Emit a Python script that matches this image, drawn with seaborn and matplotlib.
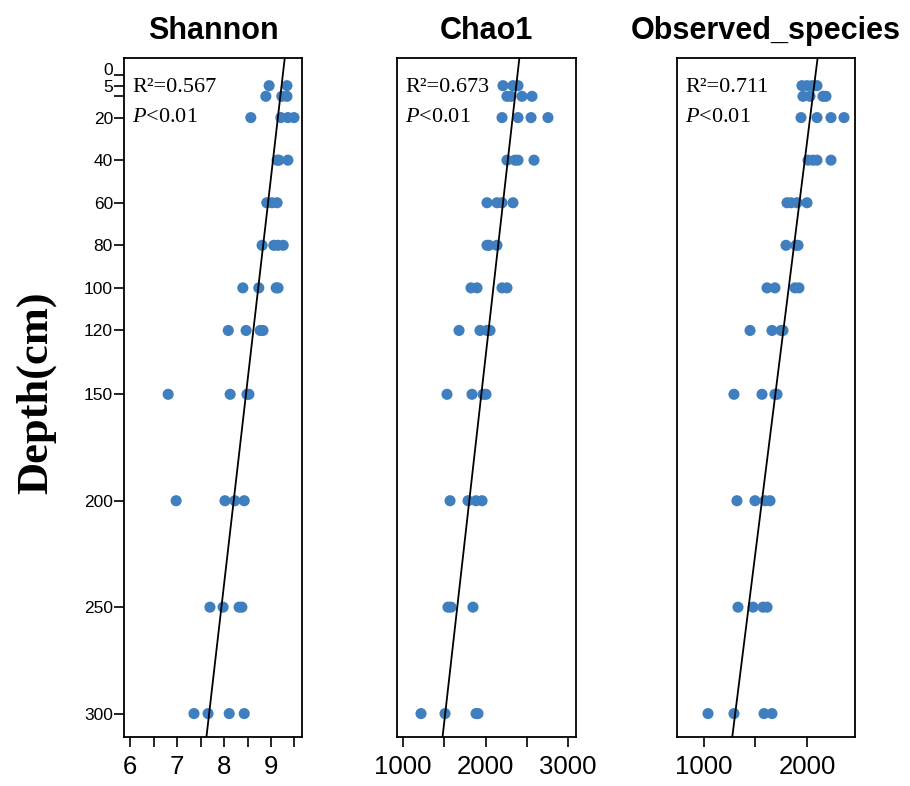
import numpy as np
import pandas as pd
import matplotlib
matplotlib.use('Agg')
import matplotlib.pyplot as plt
import matplotlib.transforms as mtransforms
import seaborn as sns

sns.set_style('ticks')
plt.rcParams['font.family'] = ['Liberation Sans', 'DejaVu Sans']
plt.rcParams['mathtext.fontset'] = 'custom'
plt.rcParams['mathtext.rm'] = 'Liberation Serif'
plt.rcParams['mathtext.it'] = 'Liberation Serif:italic'
for key in ['text.color', 'axes.labelcolor', 'xtick.color', 'ytick.color', 'axes.edgecolor']:
    plt.rcParams[key] = 'black'

# depth of each sample row (cm)
depths = [5, 5, 10, 10, 10, 20, 20, 20, 20, 40, 40, 40, 60, 60, 60,
          80, 80, 80, 80, 100, 100, 100, 100, 120, 120, 120, 120,
          150, 150, 150, 150, 200, 200, 200, 200, 250, 250, 250, 250,
          300, 300, 300, 300]
shannon = [8.96, 9.34, 8.89, 9.23, 9.34, 8.57, 9.21, 9.36, 9.49,
           9.13, 9.17, 9.36, 8.91, 9.02, 9.13,
           8.81, 9.06, 9.15, 9.26, 8.40, 8.74, 9.11, 9.15,
           8.09, 8.47, 8.77, 8.83, 6.81, 8.13, 8.49, 8.53,
           6.98, 8.02, 8.23, 8.43, 7.70, 7.98, 8.32, 8.38,
           7.36, 7.66, 8.11, 8.43]

depths_c = [5, 5, 5, 10, 10, 10, 10, 20, 20, 20, 20, 40, 40, 40, 40,
            60, 60, 60, 60, 80, 80, 80, 100, 100, 100, 100,
            120, 120, 120, 120, 150, 150, 150, 150, 200, 200, 200, 200,
            250, 250, 250, 300, 300, 300, 300]
chao1 = [2212, 2333, 2394, 2260, 2309, 2442, 2564, 2200, 2394, 2552, 2757,
         2260, 2357, 2394, 2588, 2018, 2139, 2200, 2333, 2018, 2042, 2139,
         1824, 1897, 2200, 2260, 1679, 1933, 2018, 2055,
         1533, 1836, 1970, 2006, 1570, 1788, 1885, 1958,
         1545, 1582, 1848, 1218, 1509, 1885, 1909]

depths_o = [5, 5, 5, 5, 10, 10, 10, 10, 20, 20, 20, 20, 40, 40, 40, 40,
            60, 60, 60, 60, 80, 80, 80, 100, 100, 100, 100,
            120, 120, 120, 120, 150, 150, 150, 150, 200, 200, 200, 200,
            250, 250, 250, 250, 300, 300, 300, 300]
observed = [1951, 2000, 2049, 2097, 1961, 2029, 2155, 2184,
            1942, 2097, 2233, 2359, 2010, 2058, 2097, 2233,
            1806, 1845, 1903, 2000, 1796, 1893, 1913,
            1612, 1689, 1883, 1922, 1447, 1660, 1748, 1767,
            1291, 1563, 1689, 1709, 1320, 1495, 1592, 1641,
            1330, 1476, 1573, 1612, 1039, 1291, 1583, 1660]

titles = ['Shannon', 'Chao1', 'Observed_species']
r2_labels = ['0.567', '0.673', '0.711']
ytick_vals = [0, 5, 10, 20, 40, 60, 80, 100, 120, 150, 200, 250, 300]
ytick_labels = ['0', '5', '', '20', '40', '60', '80', '100', '120', '150', '200', '250', '300']

panels = [
    (depths, shannon, (5.87, 9.66), np.arange(6, 9.51, 0.5), ['6', '', '7', '', '8', '', '9', '']),
    (depths_c, chao1, (927, 3097), np.arange(1000, 3001, 500), ['1000', '', '2000', '', '3000']),
    (depths_o, observed, (738, 2466), np.arange(1000, 2001, 500), ['1000', '', '2000']),
]
lefts = [124, 397, 677]
widths = [178, 179, 178]

dot_color = '#3f7fbf'

fig = plt.figure(figsize=(9.1, 7.86), dpi=100)

for i, (d, v, xlim, xt, xtl) in enumerate(panels):
    ax = fig.add_axes([lefts[i] / 910, 49 / 786, widths[i] / 910, 679 / 786])
    df = pd.DataFrame({'depth': d, 'value': v})
    sns.scatterplot(data=df, x='value', y='depth', ax=ax, color=dot_color,
                    s=64, edgecolor='none', linewidth=0, zorder=3)

    # linear fit of value against depth
    k, b = np.polyfit(df['depth'], df['value'], 1)
    dd = np.array([-8, 311])
    ax.plot(k * dd + b, dd, color='black', lw=1.3, zorder=4)

    ax.set_xlim(*xlim)
    ax.set_ylim(311, -8)
    ax.set_xticks(xt)
    ax.set_xticklabels(xtl)
    ax.tick_params(axis='x', length=7, width=1.2, pad=6, labelsize=18.5)
    if i == 0:
        ax.set_yticks(ytick_vals)
        ax.set_yticklabels(ytick_labels)
        ax.tick_params(axis='y', length=7, width=1.2, pad=1, labelsize=12.5)
        # nudge the "0" label up so it clears the "5"
        lab0 = ax.get_yticklabels()[0]
        lab0.set_transform(lab0.get_transform() +
                           mtransforms.ScaledTranslation(0, 4 / 72, fig.dpi_scale_trans))
    else:
        ax.set_yticks([])
    ax.set_xlabel('')
    ax.set_ylabel('')
    for sp in ax.spines.values():
        sp.set_visible(True)
        sp.set_linewidth(1.3)
        sp.set_color('black')

    ax.set_title(titles[i], fontsize=22, fontweight='bold', pad=14)
    ax.text(0.045, 0.956, 'R\u00b2=' + r2_labels[i], transform=ax.transAxes,
            family='Liberation Serif', fontsize=16, va='center', ha='left')
    ax.text(0.045, 0.913, '$P$<0.01', transform=ax.transAxes,
            family='Liberation Serif', fontsize=16, va='center', ha='left')

fig.text(0.0396, 0.5, 'Depth(cm)', rotation=90, ha='center', va='center',
         family='Liberation Serif', fontweight='bold', fontsize=32)

fig.savefig('out.png', dpi=100)
